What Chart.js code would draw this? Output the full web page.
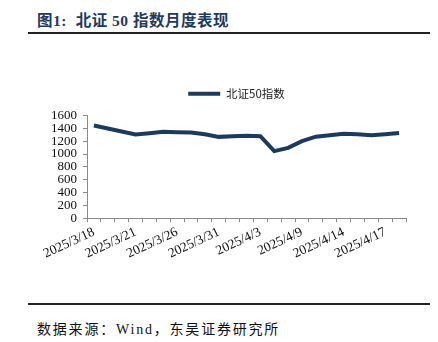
<!DOCTYPE html>
<html>
<head>
<meta charset="utf-8">
<script src="https://cdn.jsdelivr.net/npm/chart.js@4.4.1/dist/chart.umd.min.js"></script>
<style>
  body { margin: 0; width: 438px; height: 342px; background: #fff; position: relative; overflow: hidden; }
  .title {
    position: absolute; left: 37px; top: 8px;
    font: bold 15.5px "Liberation Serif", "Noto Sans CJK SC", serif;
    letter-spacing: 0.5px;
    color: #1f3a60; white-space: nowrap;
  }
  .rule { position: absolute; left: 28px; width: 402px; height: 2px; background: #222; }
  .source {
    position: absolute; left: 37px; top: 318px;
    font: 14px "Liberation Serif", "Noto Sans CJK SC", serif;
    letter-spacing: 1.8px;
    color: #111; white-space: nowrap;
  }
  #wrap { position: absolute; left: 0; top: 59px; width: 438px; height: 205px; }
</style>
</head>
<body>
<div class="title">图1:&nbsp;&nbsp;北证 50 指数月度表现</div>
<div class="rule" style="top:32px"></div>
<div id="wrap"><canvas id="indexChart"></canvas></div>
<div class="rule" style="top:303px"></div>
<div class="source">数据来源：Wind，东吴证券研究所</div>

<script>
// Trading days, 2025/3/18 - 2025/4/18
const dates = [
  '2025/3/18', '2025/3/19', '2025/3/20', '2025/3/21', '2025/3/24', '2025/3/25',
  '2025/3/26', '2025/3/27', '2025/3/28', '2025/3/31', '2025/4/1', '2025/4/2',
  '2025/4/3', '2025/4/7', '2025/4/8', '2025/4/9', '2025/4/10', '2025/4/11',
  '2025/4/14', '2025/4/15', '2025/4/16', '2025/4/17', '2025/4/18'
];
// BSE 50 close
const bse50 = [
  1444, 1398, 1351, 1304, 1325, 1345, 1340, 1335, 1309, 1267, 1275, 1286,
  1278, 1045, 1096, 1200, 1270, 1293, 1314, 1309, 1293, 1309, 1329
];
const seriesName = '北证50指数';
const yTicks = [0, 200, 400, 600, 800, 1000, 1200, 1400, 1600];

const navy = '#1c3a5f';
const axisGrey = '#8c8c8c';

// move the legend right of the canvas centre and up, away from the plot
const legendShift = {
  id: 'legendShift',
  afterLayout(chart) {
    const lg = chart.legend;
    if (lg) {
      lg.left += 11;
      lg.right += 11;
      lg.top -= 6;
      lg.bottom -= 6;
    }
  }
};

const ctx = document.getElementById('indexChart').getContext('2d');
const indexChart = new Chart(ctx, {
  type: 'line',
  data: {
    labels: dates,
    datasets: [{
      label: seriesName,
      data: bse50,
      borderColor: navy,
      backgroundColor: navy,
      borderWidth: 4,
      pointRadius: 0,
      tension: 0
    }]
  },
  plugins: [legendShift],
  options: {
    responsive: true,
    maintainAspectRatio: false,
    animation: false,
    layout: { padding: { left: 45, right: 32, top: 0, bottom: 0 } },
    plugins: {
      tooltip: { enabled: false },
      legend: {
        position: 'top',
        labels: {
          usePointStyle: true,
          pointStyle: 'line',
          pointStyleWidth: 32,
          color: '#222',
          font: { family: '"Noto Sans CJK SC", sans-serif', size: 11.5 },
          padding: 35
        }
      }
    },
    scales: {
      x: {
        offset: true,
        grid: { offset: true, drawOnChartArea: false, tickLength: 4, color: axisGrey },
        border: { color: axisGrey },
        ticks: {
          autoSkip: false,
          maxRotation: 25,
          minRotation: 25,
          padding: 2,
          color: '#111',
          font: { family: '"Liberation Serif", serif', size: 13.5 },
          callback: function (value, index) {
            return index % 3 === 0 ? dates[index] : '';
          }
        }
      },
      y: {
        min: 0,
        max: 1600,
        afterBuildTicks: axis => { axis.ticks = yTicks.map(v => ({ value: v })); },
        grid: { drawOnChartArea: false, tickLength: 4, color: axisGrey },
        border: { color: axisGrey },
        ticks: {
          autoSkip: false,
          padding: 6,
          color: '#111',
          font: { family: '"Liberation Serif", serif', size: 13 },
          callback: value => String(value)
        }
      }
    }
  }
});
</script>
</body>
</html>
